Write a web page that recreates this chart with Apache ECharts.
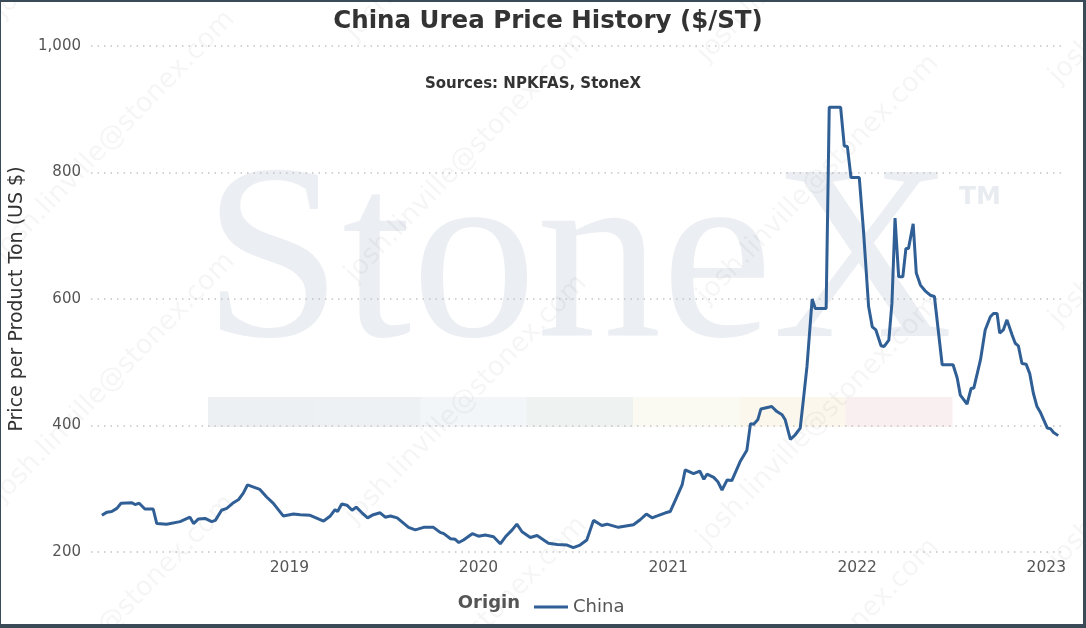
<!DOCTYPE html>
<html>
<head>
<meta charset="utf-8"/>
<title>China Urea Price History</title>
<script src="https://cdn.jsdelivr.net/npm/echarts@6/dist/echarts.min.js"></script>
<style>
    html, body { margin: 0; padding: 0; }
    body { background: #3b4a57; width: 1086px; height: 628px; overflow: hidden; }
    #chart { position: absolute; left: 1px; top: 2px; width: 1082px; height: 622px; background: #fff; }
</style>
</head>
<body>
<div id="chart"></div>
<script>
// weekly-ish China urea price, $/ST
var dates = [
    '2018-01-04','2018-01-14','2018-01-23','2018-02-02','2018-02-10','2018-03-03','2018-03-09','2018-03-17','2018-03-28','2018-04-13',
    '2018-04-20','2018-05-09','2018-06-04','2018-06-23','2018-06-30','2018-07-09','2018-07-22','2018-08-04','2018-08-11','2018-08-23',
    '2018-09-02','2018-09-15','2018-09-25','2018-10-04','2018-10-12','2018-11-05','2018-11-18','2018-12-01','2018-12-20',
    '2019-01-09','2019-01-22','2019-02-10','2019-03-08','2019-03-21','2019-03-30','2019-04-04','2019-04-12','2019-04-22','2019-05-02',
    '2019-05-10','2019-05-21','2019-06-01','2019-06-12','2019-06-25','2019-07-05','2019-07-15','2019-07-28','2019-08-19','2019-09-01',
    '2019-09-17','2019-10-06','2019-10-19','2019-10-26','2019-11-08','2019-11-17','2019-11-24','2019-12-03','2019-12-20',
    '2020-01-01','2020-01-14','2020-01-30','2020-02-12','2020-02-22','2020-03-06','2020-03-15','2020-03-25','2020-04-10','2020-04-23',
    '2020-05-15','2020-06-01','2020-06-20','2020-07-02','2020-07-15','2020-07-28','2020-08-10','2020-08-26','2020-09-05','2020-09-27',
    '2020-10-26','2020-11-08','2020-11-20','2020-12-01','2020-12-11','2020-12-27',
    '2021-01-05','2021-01-15','2021-01-28','2021-02-03','2021-02-19','2021-03-03','2021-03-11','2021-03-17','2021-03-30','2021-04-07',
    '2021-04-15','2021-04-25','2021-05-04','2021-05-20','2021-06-02','2021-06-09','2021-06-15','2021-06-23','2021-06-29','2021-07-20',
    '2021-07-30','2021-08-09','2021-08-15','2021-08-25','2021-09-03','2021-09-13','2021-09-19','2021-09-26','2021-10-06','2021-10-12',
    '2021-11-02','2021-11-08','2021-11-30','2021-12-07','2021-12-13','2021-12-20',
    '2022-01-05','2022-01-13','2022-01-23','2022-01-30','2022-02-06','2022-02-16','2022-02-22','2022-03-03','2022-03-09','2022-03-15',
    '2022-03-22','2022-03-30','2022-04-05','2022-04-10','2022-04-19','2022-04-25','2022-05-03','2022-05-12','2022-05-22','2022-05-30',
    '2022-06-14','2022-07-05','2022-07-13','2022-07-19','2022-08-01','2022-08-09','2022-08-14','2022-08-27','2022-09-05','2022-09-15',
    '2022-09-21','2022-09-28','2022-10-03','2022-10-10','2022-10-17','2022-10-27','2022-11-02','2022-11-08','2022-11-15','2022-11-23',
    '2022-11-30','2022-12-07','2022-12-14','2022-12-21',
    '2023-01-03','2023-01-09','2023-01-15','2023-01-24'
];
var china = [
    258,263,264,269,277,278,275,277,268,268,
    245,244,248,255,245,252,253,248,250,266,
    269,278,283,293,306,299,287,277,257,
    260,259,258,249,257,267,264,276,274,266,
    271,262,254,259,262,255,257,254,239,235,
    239,239,231,229,221,220,215,219,229,
    225,227,224,213,224,235,244,232,223,226,
    214,212,211,207,211,219,250,242,244,239,
    243,251,260,254,257,262,
    264,282,306,330,324,328,315,323,318,311,
    298,314,313,343,361,403,402,409,426,430,
    422,417,409,378,385,396,440,493,600,585,
    585,903,903,842,841,792,
    792,709,588,556,551,526,525,535,593,728,
    635,635,680,680,719,641,622,613,606,604,
    496,496,475,448,434,459,459,504,551,572,
    577,577,546,551,567,543,530,526,498,497,
    482,451,430,420,
    396,395,389,384
];
var yTicks = [200, 400, 600, 800, 1000];
var yearLabels = ['2019', '2020', '2021', '2022', '2023'];
var bandColors = ['#edf0f3', '#eef1f4', '#f2f6f9', '#eef2f1', '#fbfaf2', '#fbf7ec', '#f9eef0'];

var seriesData = [];
for (var i = 0; i < dates.length; i++) {
    seriesData.push([dates[i], china[i]]);
}

// watermark stuff
var marks = [];
marks.push({
    type: 'text', z: -10, silent: true,
    style: { text: 'StoneX', x: 577, y: 268, align: 'center', verticalAlign: 'middle',
        font: '250px "Liberation Serif", "DejaVu Serif", serif', fill: '#ebeef2' }
});
marks.push({
    type: 'text', z: -10, silent: true,
    style: { text: 'TM', x: 979, y: 195, align: 'center', verticalAlign: 'middle',
        font: 'bold 25px "DejaVu Sans", sans-serif', fill: '#e8ecf0' }
});
var bw = 744 / bandColors.length;
for (var b = 0; b < bandColors.length; b++) {
    marks.push({
        type: 'rect', z: -10, silent: true,
        shape: { x: 207 + b * bw, y: 395, width: bw + 0.5, height: 30 },
        style: { fill: bandColors[b] }
    });
}
for (var k = 0; k < 4; k++) {
    for (var j = -1; j < 4; j++) {
        marks.push({
            type: 'text', z: -9, silent: true,
            x: -3 + k * 352, y: 254 + j * 242 + k * 22,
            rotation: Math.PI * 46 / 180,
            style: { text: 'josh.linville@stonex.com', x: 0, y: 0, align: 'left', verticalAlign: 'middle',
                font: '27px "DejaVu Sans", sans-serif', fill: 'rgba(0,0,0,0.04)' }
        });
    }
}
marks.push({
    type: 'text', z: 10, silent: true,
    style: { text: 'Origin', x: 519, y: 601, align: 'right', verticalAlign: 'middle',
        font: 'bold 18px "DejaVu Sans", sans-serif', fill: '#555' }
});

var myChart = echarts.init(document.getElementById('chart'));
var option = {
    backgroundColor: '#fff',
    animation: false,
    title: [{
        text: 'China Urea Price History ($/ST)',
        left: 542, top: 2, textAlign: 'center',
        textStyle: { fontFamily: 'DejaVu Sans', fontWeight: 'bold', fontSize: 24.5, color: '#333' }
    }, {
        text: 'Sources: NPKFAS, StoneX',
        left: 527, top: 70, textAlign: 'center',
        textStyle: { fontFamily: 'DejaVu Sans', fontWeight: 'bold', fontSize: 15, color: '#333' }
    }],
    grid: { left: 90, right: 17, top: 44, bottom: 72, containLabel: false, outerBoundsMode: 'none' },
    legend: {
        data: ['China'],
        left: 528, top: 591,
        icon: 'rect', itemWidth: 34, itemHeight: 3, itemGap: 8,
        textStyle: { fontFamily: 'DejaVu Sans', fontSize: 18, color: '#555' }
    },
    xAxis: {
        type: 'time',
        min: '2017-12-14',
        max: '2023-02-08',
        minInterval: 365 * 24 * 3600 * 1000,
        maxInterval: 366 * 24 * 3600 * 1000,
        axisLine: { show: false },
        axisTick: { show: false },
        splitLine: { show: false },
        axisLabel: {
            showMinLabel: false, showMaxLabel: false,
            formatter: function (v) {
                var y = String(new Date(v).getFullYear());
                return yearLabels.indexOf(y) >= 0 ? y : '';
            },
            fontFamily: 'DejaVu Sans', fontSize: 15.5, color: '#555', margin: 8
        }
    },
    yAxis: {
        type: 'value',
        min: yTicks[0], max: yTicks[yTicks.length - 1], interval: 200,
        name: 'Price per Product Ton (US $)',
        nameLocation: 'middle', nameGap: 64,
        nameTextStyle: { fontFamily: 'DejaVu Sans', fontSize: 19, color: '#333' },
        axisLine: { show: false },
        axisTick: { show: false },
        splitLine: { lineStyle: { type: [1.5, 5], color: '#c4c4c4', width: 1.5 } },
        axisLabel: {
            fontFamily: 'DejaVu Sans', fontSize: 15, color: '#555', margin: 10,
            formatter: function (v) { return v.toLocaleString('en-US'); }
        }
    },
    graphic: marks,
    series: [{
        name: 'China',
        type: 'line',
        data: seriesData,
        showSymbol: false,
        symbol: 'none',
        lineStyle: { color: '#305f96', width: 3 },
        itemStyle: { color: '#305f96' },
        z: 5
    }]
};
myChart.setOption(option);
</script>
</body>
</html>
